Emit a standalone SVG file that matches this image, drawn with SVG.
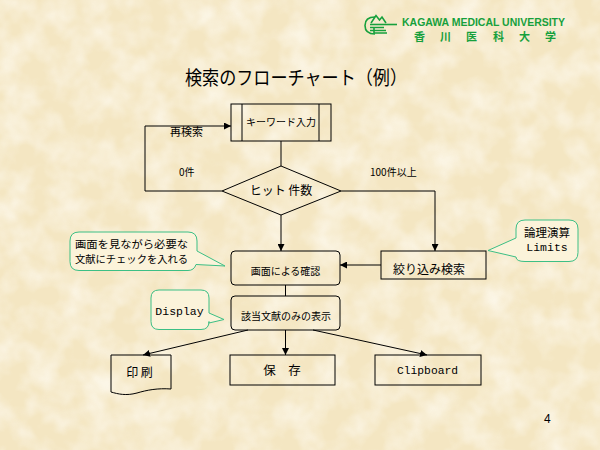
<svg xmlns="http://www.w3.org/2000/svg" width="600" height="450" viewBox="0 0 600 450">
<defs>
<style>
.jp{font-family:"Noto Sans CJK JP","Noto Sans",sans-serif;fill:#000}
.mono{font-family:"Liberation Mono","DejaVu Sans Mono",monospace;fill:#000}
.box{fill:none;stroke:#000;stroke-width:1}
.conn{fill:none;stroke:#000;stroke-width:1}
.call{fill:#fbf3da;stroke:#3cbf85;stroke-width:1}
.logo{fill:none;stroke:#16a03c;stroke-width:1.6}
</style>
<marker id="ah" viewBox="0 0 8 8" refX="8" refY="4" markerWidth="7" markerHeight="7" orient="auto" markerUnits="userSpaceOnUse">
<path d="M0,0 L8,4 L0,8 z" fill="#000"/>
</marker>
<filter id="paper" x="0" y="0" width="100%" height="100%">
<feTurbulence type="fractalNoise" baseFrequency="0.035" numOctaves="3" seed="7" result="n"/>
<feColorMatrix in="n" type="matrix" values="0 0 0 0 1  0 0 0 0 0.98  0 0 0 0 0.92  1.6 0 0 0 -0.55"/>
</filter>
</defs>

<rect width="600" height="450" fill="#f4e6c2"/>
<rect width="600" height="450" filter="url(#paper)" opacity="0.8"/>

<g id="logo">
<path class="logo" d="M375,17 Q365,17 365,25.5 Q365,34 375,34"/>
<path class="logo" d="M371,23 L376,15.5 L379.5,20 L382,17 L386,23"/>
<path class="logo" d="M370,24.5 H397"/>
<path class="logo" d="M370,27.5 H384 M370,30.5 H386 M374,28 V33 H387"/>
<text x="402" y="25.8" font-family="Liberation Sans,Arial,sans-serif" font-weight="bold" font-size="10.5" fill="#16a03c" textLength="163" lengthAdjust="spacingAndGlyphs">KAGAWA MEDICAL UNIVERSITY</text>
<text x="414 440 466 493 519 545" y="41" font-family="Noto Sans CJK JP,sans-serif" font-weight="bold" font-size="11" fill="#16a03c">香川医科大学</text>
</g>

<text id="title" class="jp" x="296" y="85" font-size="19" text-anchor="middle" textLength="222" lengthAdjust="spacingAndGlyphs">検索のフローチャート（例）</text>

<g id="connectors">
<polyline class="conn" points="222,191 145,191 145,126 231,126" marker-end="url(#ah)"/>
<line class="conn" x1="281" y1="141" x2="281" y2="166"/>
<polyline class="conn" points="341,191 435,191 435,251" marker-end="url(#ah)"/>
<line class="conn" x1="281" y1="215" x2="281" y2="251" marker-end="url(#ah)"/>
<line class="conn" x1="381" y1="265" x2="340" y2="265" marker-end="url(#ah)"/>
<line class="conn" x1="285.5" y1="285" x2="285.5" y2="296"/>
<line class="conn" x1="248" y1="330" x2="143" y2="355" marker-end="url(#ah)"/>
<line class="conn" x1="285.5" y1="330" x2="285.5" y2="355" marker-end="url(#ah)"/>
<line class="conn" x1="313" y1="330" x2="427" y2="355" marker-end="url(#ah)"/>
<text class="jp" x="170" y="136" font-size="11">再検索</text>
<text class="jp" x="179" y="176" font-size="10">0件</text>
<text class="jp" x="370" y="176" font-size="10">100件以上</text>
</g>

<g id="keyword-input">
<rect class="box" x="231" y="104" width="100" height="37"/>
<line class="box" x1="242" y1="104" x2="242" y2="141"/>
<line class="box" x1="319" y1="104" x2="319" y2="141"/>
<text class="jp" x="281" y="126" font-size="10" text-anchor="middle">キーワード入力</text>
</g>

<g id="hit-count">
<polygon class="box" points="281,166 341,191 281,215 222,191"/>
<text class="jp" x="281" y="195" font-size="12" text-anchor="middle">ヒット 件数</text>
</g>

<g id="confirm">
<rect class="box" x="231" y="251" width="109" height="34" rx="4"/>
<text class="jp" x="285.5" y="274.5" font-size="10" text-anchor="middle">画面による確認</text>
</g>

<g id="narrow">
<rect class="box" x="381" y="251" width="105" height="28"/>
<text class="jp" x="429" y="273.5" font-size="12" text-anchor="middle">絞り込み検索</text>
</g>

<g id="display">
<rect class="box" x="231" y="296" width="109" height="34" rx="4"/>
<text class="jp" x="286" y="320" font-size="10" text-anchor="middle">該当文献のみの表示</text>
</g>

<g id="print">
<path class="box" d="M111,355 H171 V389 C158,388 147,390 137,393 C126,396 118,394 111,392 Z"/>
<text class="jp" x="139.5" y="377" font-size="12" text-anchor="middle">印 刷</text>
</g>

<g id="save">
<rect class="box" x="230" y="355" width="105" height="30"/>
<text class="jp" x="282" y="374.5" font-size="12.5" text-anchor="middle">保　存</text>
</g>

<g id="clipboard">
<rect class="box" x="375" y="355" width="106" height="30"/>
<text class="mono" x="427.5" y="374" font-size="11.3" text-anchor="middle">Clipboard</text>
</g>

<g id="note-check">
<path class="call" d="M79,232 H188 Q197,232 197,241 V251 L225,266 L196,264.5 Q194,270.5 188,270.5 H79 Q70,270.5 70,261.5 V241 Q70,232 79,232 Z"/>
<text class="jp" x="75" y="248" font-size="10.5" textLength="113" lengthAdjust="spacingAndGlyphs">画面を見ながら必要な</text>
<text class="jp" x="75" y="263" font-size="10.5" textLength="113" lengthAdjust="spacingAndGlyphs">文献にチェックを入れる</text>
</g>

<g id="note-display">
<path class="call" d="M159,290 H201 Q209,290 209,298 V313 L224,319.5 L209,323 V321.5 Q209,329.5 201,329.5 H159 Q151,329.5 151,321.5 V298 Q151,290 159,290 Z"/>
<text class="mono" x="179.5" y="314.5" font-size="11.5" text-anchor="middle">Display</text>
</g>

<g id="note-limits">
<path class="call" d="M525,220 H569 Q578,220 578,229 V252.5 Q578,261.5 569,261.5 H525 Q516,261.5 516,257 L488,250.5 L516,238 V229 Q516,220 525,220 Z"/>
<text class="jp" x="547" y="237" font-size="11.5" text-anchor="middle">論理演算</text>
<text class="mono" x="547" y="251" font-size="11.5" text-anchor="middle">Limits</text>
</g>

<text id="page" x="544" y="423" font-family="Liberation Sans,Arial,sans-serif" font-size="12" fill="#000">4</text>
</svg>
